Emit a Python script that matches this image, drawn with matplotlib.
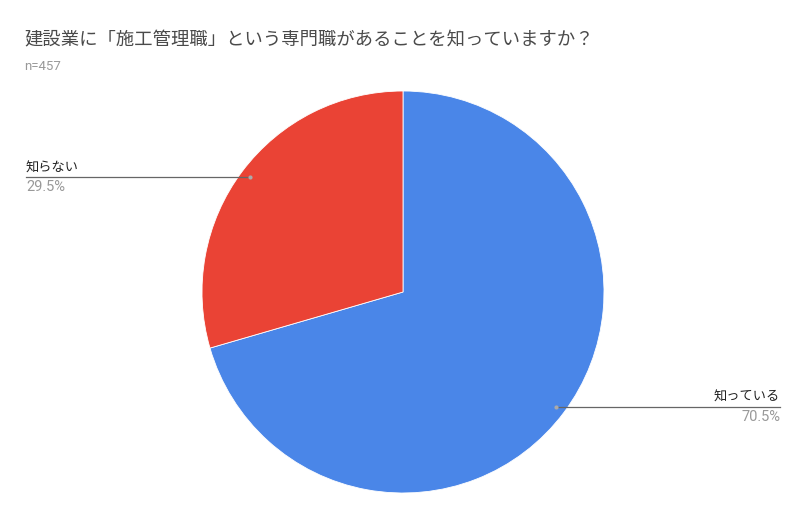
import numpy as np
import matplotlib.pyplot as plt

plt.rcParams['font.family'] = ['Noto Sans CJK JP', 'DejaVu Sans']

title = "建設業に「施工管理職」という専門職があることを知っていますか？"
subtitle = "n=457"
labels = ["知っている", "知らない"]
values = [70.5, 29.5]
colors = ["#4a86e8", "#ea4335"]

W, H = 806, 519
fig = plt.figure(figsize=(W / 100, H / 100), dpi=100)
ax = fig.add_axes([0, 0, 1, 1])

cx, cy, r = 403, H - 292, 201
ax.pie(values, colors=colors, startangle=90, counterclock=False,
       center=(cx, cy), radius=r, frame=True,
       wedgeprops=dict(edgecolor="white", linewidth=0.6))
ax.set_xlim(0, W)
ax.set_ylim(0, H)
ax.set_aspect("equal")
ax.axis("off")

fig.text(24 / W, 1 - 40 / H, title, fontsize=13.2, color="#4a4a4a", va="center")
fig.text(24 / W, 1 - 66 / H, subtitle, fontsize=9.5, color="#999999", va="center",
         family=["Roboto", "DejaVu Sans"])

# leader lines from each slice middle
total = sum(values)
start = 90.0
for lab, v in zip(labels, values):
    mid = start - v / total * 360 / 2
    start -= v / total * 360
    a = np.deg2rad(mid)
    px = cx + 0.95 * r * np.cos(a)
    py = cy + 0.95 * r * np.sin(a)
    if np.cos(a) < 0:
        lx, ha = 26, "left"
    else:
        lx, ha = 780, "right"
    ax.plot([px, lx], [py, py], color="#666666", lw=0.9)
    ax.plot([px], [py], "o", ms=3, color="#aaaaaa", mec="none")
    ax.text(lx, py + 9, lab, fontsize=9.5, color="#222222", ha=ha, va="center")
    ax.text(lx, py - 10, f"{v}%", fontsize=10.5, color="#999999", ha=ha, va="center",
            family=["Roboto", "DejaVu Sans"])

fig.savefig("out.png", dpi=100)
